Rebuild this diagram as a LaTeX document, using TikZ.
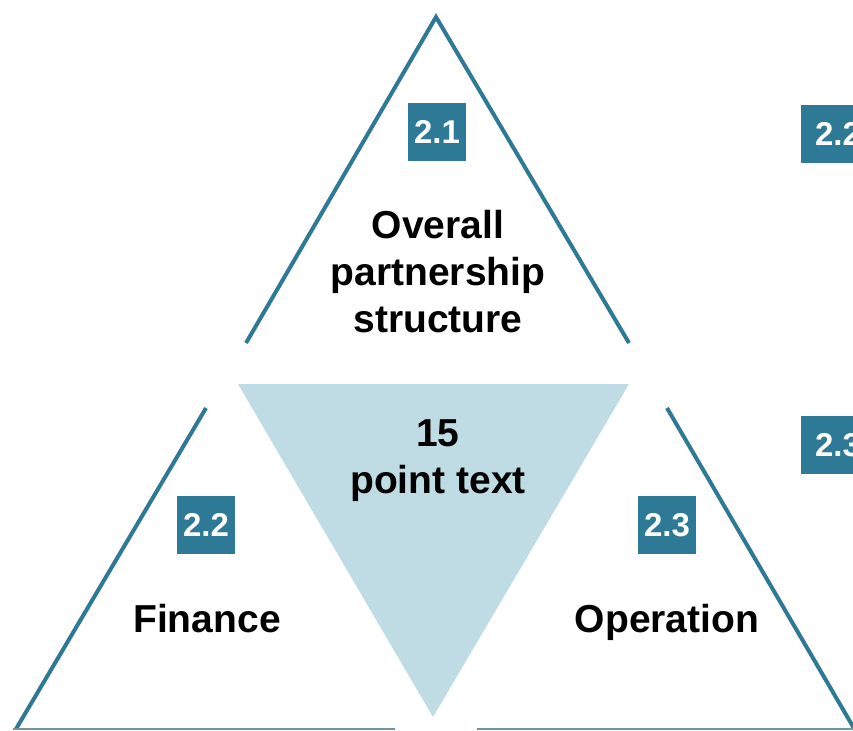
\documentclass[tikz,border=0pt]{standalone}
\usepackage{fontspec}
\setmainfont{Liberation Sans}
\definecolor{teal}{RGB}{46,122,150}
\definecolor{paleblue}{RGB}{191,220,229}
\definecolor{baseline}{RGB}{110,150,165}
\begin{document}
\begin{tikzpicture}[x=1pt,y=-1pt,
  side/.style={draw=teal,line width=4pt,line join=miter},
  groundline/.style={draw=baseline,line width=1.5pt},
  numbox/.style={fill=teal,text=white,font=\fontsize{33}{38}\selectfont\bfseries,minimum width=58pt,minimum height=58pt,inner sep=0pt},
  bigtext/.style={text=black,font=\fontsize{39}{47}\selectfont\bfseries,align=center,inner sep=0pt}]
\useasboundingbox (0,0) rectangle (853,730);
\clip (0,0) rectangle (853,730);
% central inverted triangle
\fill[paleblue] (238,384) -- (629,384) -- (433,717) -- cycle;
% top triangle sides
\coordinate (tl) at (246,343);
\coordinate (tapex) at (436,17);
\coordinate (tr) at (629,343);
\draw[side] (tl) -- (tapex) -- (tr);
% left triangle
\coordinate (lt) at (206,408);
\coordinate (lb) at (16,729);
\draw[side] (lt) -- (lb);
% right triangle
\coordinate (rt) at (667,408);
\coordinate (rb) at (855,730);
\draw[side] (rt) -- (rb);
% ground lines
\coordinate (g1) at (13,729);
\coordinate (g2) at (395,729);
\coordinate (g3) at (477,729);
\coordinate (g4) at (853,729);
\draw[groundline] (g1) -- (g2);
\draw[groundline] (g3) -- (g4);
% number boxes
\node[numbox] (b21) at (437,132) {2.1};
\node[numbox] (b22) at (206,525) {2.2};
\node[numbox] (b23) at (667,525) {2.3};
\node[numbox,minimum width=74pt] (c22) at (838,134) {2.2};
\node[numbox,minimum width=74pt] (c23) at (838,445) {2.3};
% texts
\node[bigtext] (t1) at (438,272) {Overall\\partnership\\structure};
\node[bigtext] (t0) at (438,461) {15\\point text};
\node[bigtext,anchor=base] (t2) at (207,632) {Finance};
\node[bigtext,anchor=base] (t3) at (667,632) {Operation};
\end{tikzpicture}
\end{document}
